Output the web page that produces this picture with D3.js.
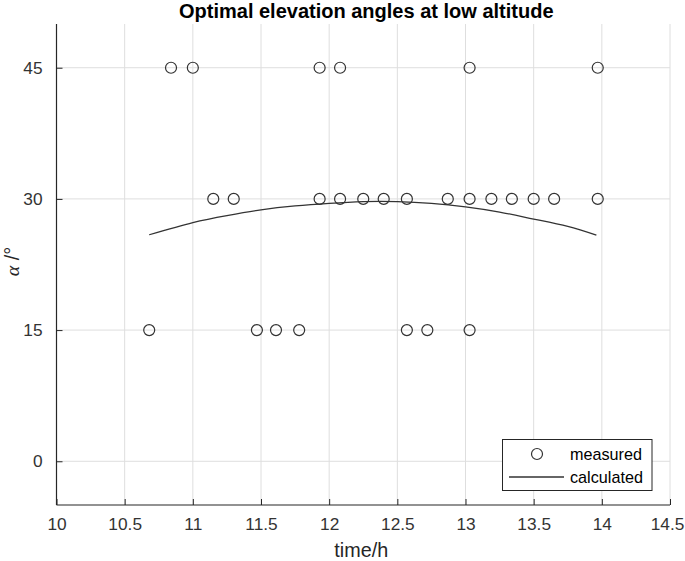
<!DOCTYPE html>
<html>
<head>
<meta charset="utf-8">
<script src="https://cdn.jsdelivr.net/npm/d3@7"></script>
<style>
  html, body { margin: 0; padding: 0; background: #fff; }
  svg { display: block; font-family: "Liberation Sans", Arial, Helvetica, sans-serif; }
</style>
</head>
<body>
<svg id="chart" width="685" height="561"></svg>
<script>
// ---- data ----
const measuredTime = [
  10.84, 11.00, 11.93, 12.08, 13.03, 13.97,
  11.15, 11.30, 11.93, 12.08, 12.25, 12.40, 12.57, 12.87, 13.03, 13.19, 13.34, 13.50, 13.65, 13.97,
  10.68, 11.47, 11.61, 11.78, 12.57, 12.72, 13.03
];
const measuredAngle = [
  45, 45, 45, 45, 45, 45,
  30, 30, 30, 30, 30, 30, 30, 30, 30, 30, 30, 30, 30, 30,
  15, 15, 15, 15, 15, 15, 15
];
const calcTime  = [10.68, 11.00, 11.25, 11.50, 11.75, 12.00, 12.25, 12.50, 12.75, 13.00, 13.25, 13.50, 13.75, 13.96];
const calcAngle = [25.9, 27.3, 28.1, 28.75, 29.2, 29.5, 29.7, 29.7, 29.5, 29.1, 28.5, 27.7, 26.85, 25.85];
const xTicks = [10, 10.5, 11, 11.5, 12, 12.5, 13, 13.5, 14, 14.5];
const yTicks = [0, 15, 30, 45];
const titleText = "Optimal elevation angles at low altitude";
const xLabel = "time/h";
const seriesNames = ["measured", "calculated"];

// ---- layout ----
const svg = d3.select("#chart");
const L = 56.5, R = 670, T = 24, B = 505;
const x = d3.scaleLinear().domain([10, 14.5]).range([L, R]);
const y = d3.scaleLinear().domain([-5, 50]).range([B, T]);
const axisColor = "#262626";
const gridColor = "#dedede";

// grid
svg.append("g").selectAll("line").data(xTicks).join("line")
  .attr("x1", d => x(d)).attr("x2", d => x(d))
  .attr("y1", T).attr("y2", B)
  .attr("stroke", gridColor).attr("stroke-width", 1);
svg.append("g").selectAll("line").data(yTicks).join("line")
  .attr("x1", L).attr("x2", R)
  .attr("y1", d => y(d)).attr("y2", d => y(d))
  .attr("stroke", gridColor).attr("stroke-width", 1);

// axes
const xAxis = d3.axisBottom(x).tickValues(xTicks).tickSize(-6).tickPadding(13)
  .tickFormat(d => String(d));
const gx = svg.append("g").attr("transform", `translate(0,${B})`).call(xAxis);
const yAxis = d3.axisLeft(y).tickValues(yTicks).tickSize(-6).tickPadding(14)
  .tickFormat(d => String(d));
const gy = svg.append("g").attr("transform", `translate(${L},0)`).call(yAxis);
[gx, gy].forEach(g => {
  g.select(".domain").attr("stroke", axisColor).attr("stroke-width", 1.2);
  g.selectAll(".tick line").attr("stroke", axisColor).attr("stroke-width", 1);
  g.selectAll(".tick text").attr("fill", "#333")
    .style("font-size", "17.3px").style("font-family", "'Liberation Sans', Arial, sans-serif");
});
gx.select(".domain").attr("d", `M${L},0H${R}`);
gy.select(".domain").attr("d", `M0,${B}V${T}`);
// keep the last x tick label inside the window
gx.selectAll(".tick text").filter(d => d === xTicks[xTicks.length - 1]).attr("dx", -3);

// calculated curve
const line = d3.line().x(d => x(d[0])).y(d => y(d[1])).curve(d3.curveNatural);
svg.append("path")
  .datum(calcTime.map((t, i) => [t, calcAngle[i]]))
  .attr("d", line)
  .attr("fill", "none").attr("stroke", "#333").attr("stroke-width", 1.3);

// measured points
svg.append("g").selectAll("circle").data(measuredTime.map((t, i) => [t, measuredAngle[i]]))
  .join("circle")
  .attr("cx", d => x(d[0])).attr("cy", d => y(d[1]))
  .attr("r", 5.5)
  .attr("fill", "none").attr("stroke", "#333").attr("stroke-width", 1.2);

// title
svg.append("text")
  .attr("x", (L + R) / 2 + 3).attr("y", 18)
  .attr("text-anchor", "middle")
  .attr("fill", "#000")
  .style("font-size", "20px").style("font-weight", "bold")
  .text(titleText);

// x label
svg.append("text")
  .attr("x", (L + R) / 2 - 2).attr("y", 557)
  .attr("text-anchor", "middle")
  .attr("fill", axisColor)
  .style("font-size", "19.8px")
  .text(xLabel);

// y label
const yl = svg.append("text")
  .attr("transform", `translate(19,${(T + B) / 2 - 3}) rotate(-90)`)
  .attr("text-anchor", "middle")
  .attr("fill", axisColor)
  .style("font-size", "19.8px");
yl.append("tspan").style("font-family", "'Liberation Serif', 'Times New Roman', serif")
  .style("font-style", "italic").text("α");
yl.append("tspan").text(" /°");

// legend
const lg = svg.append("g");
lg.append("rect")
  .attr("x", 502.5).attr("y", 439.5).attr("width", 149.5).attr("height", 51)
  .attr("fill", "#fff").attr("stroke", axisColor).attr("stroke-width", 1);
lg.append("circle")
  .attr("cx", 537).attr("cy", 454).attr("r", 5.5)
  .attr("fill", "none").attr("stroke", "#333").attr("stroke-width", 1.2);
lg.append("line")
  .attr("x1", 509).attr("x2", 564).attr("y1", 477).attr("y2", 477)
  .attr("stroke", "#333").attr("stroke-width", 1.3);
lg.selectAll("text.lt").data(seriesNames).join("text")
  .attr("class", "lt")
  .attr("x", 570).attr("y", (d, i) => 460 + i * 22.5)
  .attr("fill", "#000")
  .style("font-size", "16.2px")
  .text(d => d);
</script>
</body>
</html>
